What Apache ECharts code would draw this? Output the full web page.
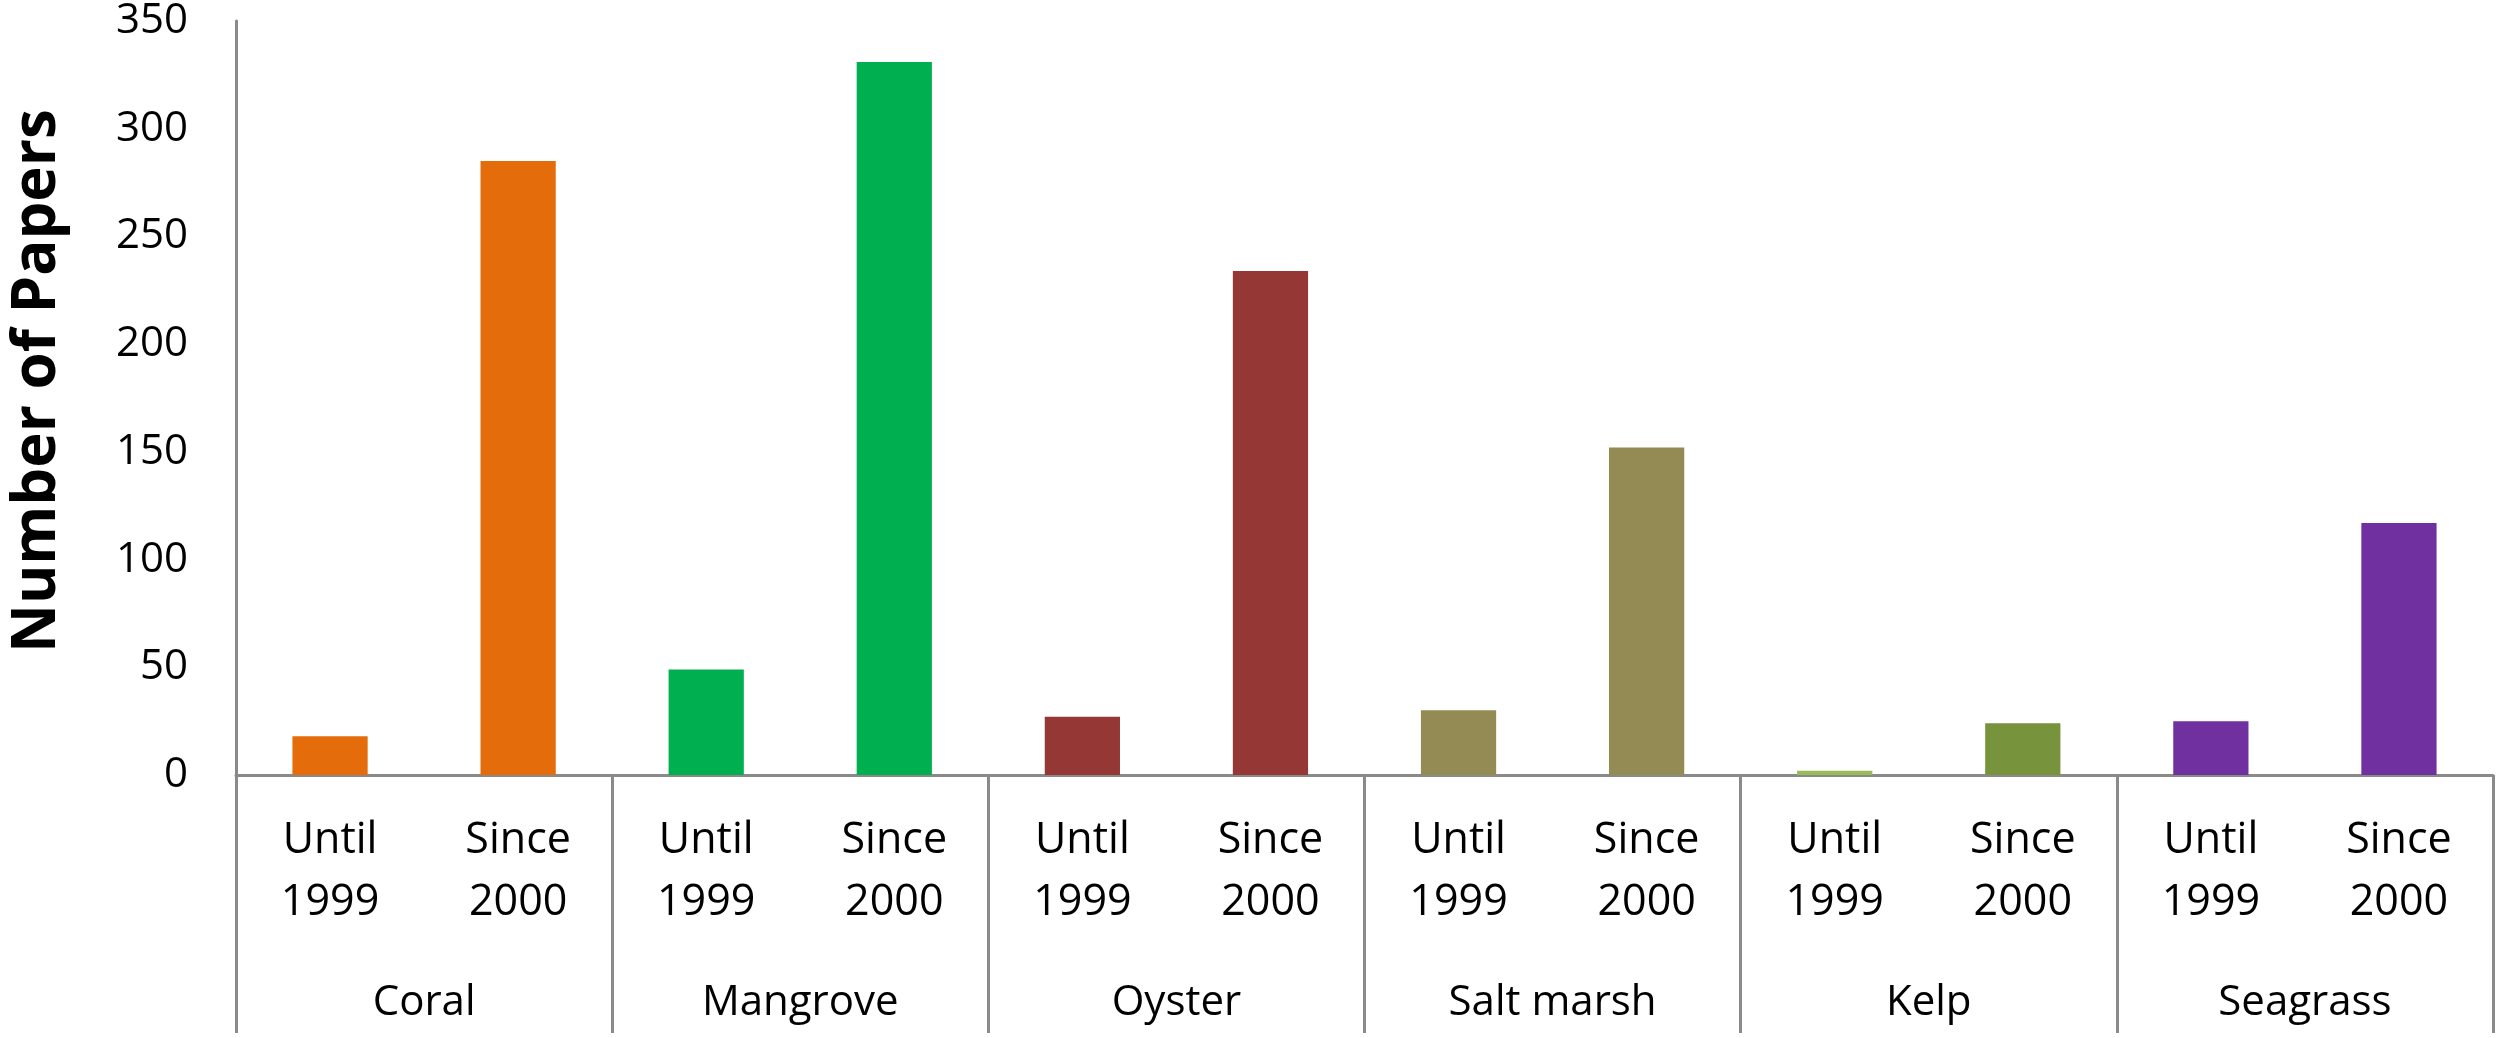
<!DOCTYPE html>
<html>
<head>
<meta charset="utf-8">
<script src="https://cdn.jsdelivr.net/npm/echarts@6/dist/echarts.min.js"></script>
<style>
  html, body { margin: 0; padding: 0; background: #ffffff; }
  #chart { width: 2500px; height: 1038px; }
</style>
</head>
<body>
<div id="chart"></div>
<script>
// ---- data ----
const groups = ['Coral', 'Mangrove', 'Oyster', 'Salt marsh', 'Kelp', 'Seagrass'];
const periods = ['Until\n1999', 'Since\n2000'];
const untilValues = [18, 49, 27, 30, 2, 25];
const sinceValues = [285, 331, 234, 152, 24, 117];
const yTicks = [0, 50, 100, 150, 200, 250, 300, 350];

// ---- styles (colours per group) ----
const untilColors = ['#E46C0A', '#00B050', '#953735', '#948A54', '#9BBB59', '#7030A0'];
const sinceColors = ['#E46C0A', '#00B050', '#953735', '#948A54', '#77933C', '#7030A0'];

const categories = [];
const barData = [];
groups.forEach((g, i) => {
  categories.push(periods[0]);
  barData.push({ value: untilValues[i], itemStyle: { color: untilColors[i] } });
  categories.push(periods[1]);
  barData.push({ value: sinceValues[i], itemStyle: { color: sinceColors[i] } });
});

const axisGray = '#8a8a8a';
const font = '"Open Sans", "Noto Sans", sans-serif';

const chart = echarts.init(document.getElementById('chart'), null, { renderer: 'canvas' });
chart.setOption({
  backgroundColor: '#ffffff',
  animation: false,
  textStyle: { fontFamily: font, color: '#000' },
  grid: { left: 231, right: 7, top: 20, bottom: 263, containLabel: false },
  xAxis: [
    {
      type: 'category',
      data: categories,
      position: 'bottom',
      axisLine: { show: true, lineStyle: { color: axisGray, width: 3 } },
      axisTick: { show: false },
      axisLabel: {
        interval: 0,
        fontSize: 43,
        lineHeight: 62,
        margin: 35,
        color: '#000',
        fontFamily: font
      },
      splitLine: { show: false }
    },
    {
      type: 'category',
      data: groups,
      position: 'bottom',
      axisLine: { show: false },
      axisTick: {
        show: true,
        interval: 0,
        alignWithLabel: false,
        length: 258,
        lineStyle: { color: axisGray, width: 3 }
      },
      axisLabel: {
        interval: 0,
        fontSize: 42,
        margin: 207,
        color: '#000',
        fontFamily: font
      },
      splitLine: { show: false }
    }
  ],
  yAxis: {
    type: 'value',
    min: yTicks[0],
    max: yTicks[yTicks.length - 1],
    interval: yTicks[1] - yTicks[0],
    name: 'Number of Papers',
    nameLocation: 'middle',
    nameGap: 168,
    nameTextStyle: { fontSize: 60, fontWeight: 'bold', color: '#000', fontFamily: font, padding: [0, 0, 0, 34] },
    axisLine: { show: true, lineStyle: { color: axisGray, width: 3 } },
    axisTick: { show: false },
    splitLine: { show: false },
    axisLabel: { fontSize: 42, margin: 48, color: '#000', fontFamily: font }
  },
  series: [
    {
      type: 'bar',
      xAxisIndex: 0,
      yAxisIndex: 0,
      barWidth: '40%',
      data: barData
    }
  ]
});
</script>
</body>
</html>
